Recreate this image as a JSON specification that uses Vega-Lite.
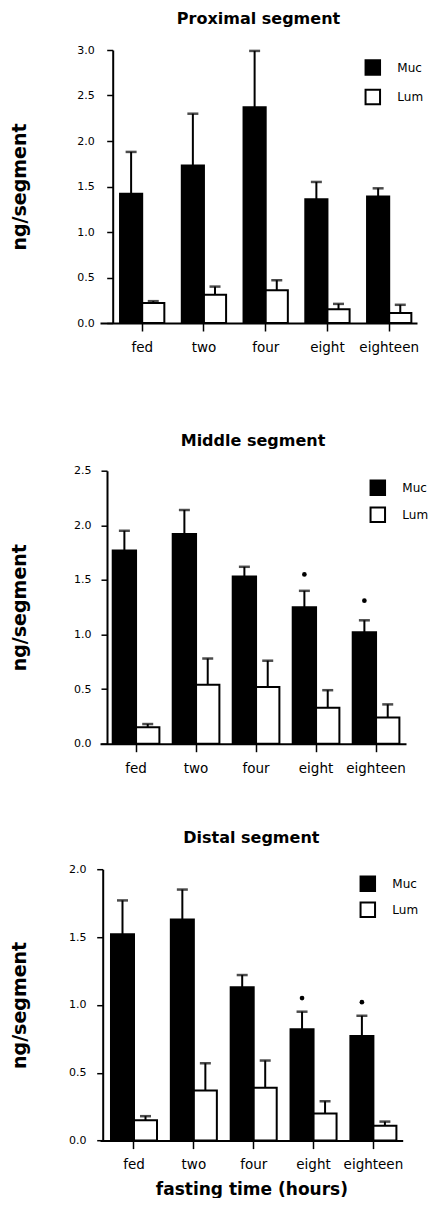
{
  "$schema": "https://vega.github.io/schema/vega-lite/v6.json",
  "padding": {"left": 10, "top": 11, "right": 0, "bottom": 0},
  "background": "white",
  "config": {
    "view": {"stroke": null},
    "axis": {"domainColor": "black", "tickColor": "black", "labelColor": "black", "titleColor": "black", "labelFont": "DejaVu Sans", "titleFont": "DejaVu Sans", "grid": false},
    "legend": {"labelFont": "DejaVu Sans", "labelColor": "black"},
    "title": {"font": "DejaVu Sans", "color": "black"}
  },
  "datasets": {
    "bars": [
      {"segment": "Proximal", "time": "fed", "series": "Muc", "value": 1.42, "err": 1.88, "star": null},
      {"segment": "Proximal", "time": "fed", "series": "Lum", "value": 0.22, "err": 0.24, "star": null},
      {"segment": "Proximal", "time": "two", "series": "Muc", "value": 1.73, "err": 2.30, "star": null},
      {"segment": "Proximal", "time": "two", "series": "Lum", "value": 0.31, "err": 0.40, "star": null},
      {"segment": "Proximal", "time": "four", "series": "Muc", "value": 2.37, "err": 2.99, "star": null},
      {"segment": "Proximal", "time": "four", "series": "Lum", "value": 0.36, "err": 0.47, "star": null},
      {"segment": "Proximal", "time": "eight", "series": "Muc", "value": 1.36, "err": 1.55, "star": null},
      {"segment": "Proximal", "time": "eight", "series": "Lum", "value": 0.15, "err": 0.21, "star": null},
      {"segment": "Proximal", "time": "eighteen", "series": "Muc", "value": 1.39, "err": 1.48, "star": null},
      {"segment": "Proximal", "time": "eighteen", "series": "Lum", "value": 0.11, "err": 0.20, "star": null},
      {"segment": "Middle", "time": "fed", "series": "Muc", "value": 1.77, "err": 1.95, "star": null},
      {"segment": "Middle", "time": "fed", "series": "Lum", "value": 0.15, "err": 0.18, "star": null},
      {"segment": "Middle", "time": "two", "series": "Muc", "value": 1.92, "err": 2.14, "star": null},
      {"segment": "Middle", "time": "two", "series": "Lum", "value": 0.54, "err": 0.78, "star": null},
      {"segment": "Middle", "time": "four", "series": "Muc", "value": 1.53, "err": 1.62, "star": null},
      {"segment": "Middle", "time": "four", "series": "Lum", "value": 0.52, "err": 0.76, "star": null},
      {"segment": "Middle", "time": "eight", "series": "Muc", "value": 1.25, "err": 1.40, "star": 1.55},
      {"segment": "Middle", "time": "eight", "series": "Lum", "value": 0.33, "err": 0.49, "star": null},
      {"segment": "Middle", "time": "eighteen", "series": "Muc", "value": 1.02, "err": 1.13, "star": 1.31},
      {"segment": "Middle", "time": "eighteen", "series": "Lum", "value": 0.24, "err": 0.36, "star": null},
      {"segment": "Distal", "time": "fed", "series": "Muc", "value": 1.52, "err": 1.77, "star": null},
      {"segment": "Distal", "time": "fed", "series": "Lum", "value": 0.15, "err": 0.18, "star": null},
      {"segment": "Distal", "time": "two", "series": "Muc", "value": 1.63, "err": 1.85, "star": null},
      {"segment": "Distal", "time": "two", "series": "Lum", "value": 0.37, "err": 0.57, "star": null},
      {"segment": "Distal", "time": "four", "series": "Muc", "value": 1.13, "err": 1.22, "star": null},
      {"segment": "Distal", "time": "four", "series": "Lum", "value": 0.39, "err": 0.59, "star": null},
      {"segment": "Distal", "time": "eight", "series": "Muc", "value": 0.82, "err": 0.95, "star": 1.05},
      {"segment": "Distal", "time": "eight", "series": "Lum", "value": 0.20, "err": 0.29, "star": null},
      {"segment": "Distal", "time": "eighteen", "series": "Muc", "value": 0.77, "err": 0.92, "star": 1.02},
      {"segment": "Distal", "time": "eighteen", "series": "Lum", "value": 0.11, "err": 0.14, "star": null}
    ]
  },
  "data": {"name": "bars"},
  "columns": 1,
  "spacing": 78.7,
  "resolve": {"scale": {"x": "independent", "y": "independent", "xOffset": "independent", "fill": "independent"}, "legend": {"fill": "independent"}, "axis": {"x": "independent", "y": "independent"}},
  "concat": [
    {
      "width": 317, "height": 273,
      "title": {"text": "Proximal segment", "frame": "group", "offset": 4, "baseline": "alphabetic", "fontSize": 16, "fontWeight": "bold"},
      "transform": [{"filter": "datum.segment === 'Proximal'"}],
      "encoding": {
        "x": {"field": "time", "type": "nominal", "sort": ["fed", "two", "four", "eight", "eighteen"], "scale": {"paddingInner": 0.2826, "paddingOuter": 0.208, "align": 0.78}, "axis": {"title": null, "labelAngle": 0, "labelFontSize": 13.5, "labelPadding": 9.5, "tickSize": 8, "tickWidth": 1.5, "domainWidth": 2}},
        "xOffset": {"field": "series", "type": "nominal", "sort": ["Muc", "Lum"], "scale": {"paddingInner": 0, "paddingOuter": 0}}
      },
      "layer": [
        {"mark": {"type": "bar", "stroke": "black", "strokeWidth": 2},
         "encoding": {
           "y": {"field": "value", "type": "quantitative", "title": "ng/segment", "scale": {"domain": [0, 3], "nice": false},
                 "axis": {"offset": -12.7, "values": [0, 0.25, 0.5, 0.75, 1, 1.25, 1.5, 1.75, 2, 2.25, 2.5, 2.75, 3], "labelExpr": "(datum.value*2) % 1 === 0 ? format(datum.value, '.1f') : ''", "tickSize": {"condition": {"test": "(datum.value*2) % 1 === 0", "value": 6}, "value": 3}, "labelPadding": 12.4, "titlePadding": 47.5, "titleFontSize": 19, "titleFontWeight": "bold", "labelFontSize": 11, "domainWidth": 2, "tickWidth": 1.5, "labelOverlap": false}},
           "fill": {"field": "series", "type": "nominal", "sort": ["Muc", "Lum"], "scale": {"domain": ["Muc", "Lum"], "range": ["black", "white"]},
                    "legend": {"title": null, "orient": "none", "legendX": 264.3, "legendY": 9, "symbolType": "square", "symbolSize": 210, "symbolStrokeColor": "black", "symbolStrokeWidth": 2, "labelFontSize": 12, "labelOffset": 16, "rowPadding": 6.6, "padding": 0}}
         }},
        {"mark": {"type": "rule", "strokeWidth": 2, "color": "black"},
         "encoding": {"y": {"field": "value", "type": "quantitative", "title": "ng/segment"}, "y2": {"field": "err"}}},
        {"mark": {"type": "tick", "thickness": 2.5, "size": 11, "color": "black"},
         "encoding": {"y": {"field": "err", "type": "quantitative", "title": "ng/segment"}}}
      ]
    },
    {
      "columns": 1,
      "spacing": 55.5,
      "resolve": {"scale": {"x": "independent", "y": "independent", "xOffset": "independent", "fill": "independent"}, "legend": {"fill": "independent"}, "axis": {"x": "independent", "y": "independent"}},
      "concat": [
        {
          "width": 306, "height": 273,
          "title": {"text": "Middle segment", "frame": "group", "offset": 2.5, "baseline": "alphabetic", "fontSize": 16, "fontWeight": "bold"},
          "transform": [{"filter": "datum.segment === 'Middle'"}],
          "encoding": {
            "x": {"field": "time", "type": "nominal", "sort": ["fed", "two", "four", "eight", "eighteen"], "scale": {"paddingInner": 0.222, "paddingOuter": 0.161, "align": 0.658}, "axis": {"title": null, "labelAngle": 0, "labelFontSize": 13.5, "labelPadding": 9.5, "tickSize": 8, "tickWidth": 1.5, "domainWidth": 2}},
            "xOffset": {"field": "series", "type": "nominal", "sort": ["Muc", "Lum"], "scale": {"paddingInner": 0, "paddingOuter": 0}}
          },
          "layer": [
            {"mark": {"type": "bar", "stroke": "black", "strokeWidth": 2},
             "encoding": {
               "y": {"field": "value", "type": "quantitative", "title": "ng/segment", "scale": {"domain": [0, 2.5], "nice": false},
                     "axis": {"offset": -7, "values": [0, 0.25, 0.5, 0.75, 1, 1.25, 1.5, 1.75, 2, 2.25, 2.5], "labelExpr": "(datum.value*2) % 1 === 0 ? format(datum.value, '.1f') : ''", "tickSize": {"condition": {"test": "(datum.value*2) % 1 === 0", "value": 6}, "value": 3}, "labelPadding": 10, "titlePadding": 43.7, "titleFontSize": 19, "titleFontWeight": "bold", "labelFontSize": 11, "domainWidth": 2, "tickWidth": 1.5, "labelOverlap": false}},
               "fill": {"field": "series", "type": "nominal", "sort": ["Muc", "Lum"], "scale": {"domain": ["Muc", "Lum"], "range": ["black", "white"]},
                        "legend": {"title": null, "orient": "none", "legendX": 269.3, "legendY": 8.5, "symbolType": "square", "symbolSize": 210, "symbolStrokeColor": "black", "symbolStrokeWidth": 2, "labelFontSize": 12, "labelOffset": 16, "rowPadding": 4, "padding": 0}}
             }},
            {"mark": {"type": "rule", "strokeWidth": 2, "color": "black"},
             "encoding": {"y": {"field": "value", "type": "quantitative", "title": "ng/segment"}, "y2": {"field": "err"}}},
            {"mark": {"type": "tick", "thickness": 2.5, "size": 11, "color": "black"},
             "encoding": {"y": {"field": "err", "type": "quantitative", "title": "ng/segment"}}},
            {"mark": {"type": "point", "filled": true, "size": 22, "color": "black", "opacity": 1},
             "encoding": {"y": {"field": "star", "type": "quantitative", "title": "ng/segment"}}}
          ]
        },
        {
          "width": 302.7, "height": 271.4,
          "title": {"text": "Distal segment", "frame": "group", "offset": 4, "baseline": "alphabetic", "fontSize": 16, "fontWeight": "bold"},
          "transform": [{"filter": "datum.segment === 'Distal'"}],
          "encoding": {
            "x": {"field": "time", "type": "nominal", "sort": ["fed", "two", "four", "eight", "eighteen"], "scale": {"paddingInner": 0.231, "paddingOuter": 0.1443, "align": 0.636}, "axis": {"title": "fasting time (hours)", "titleFontSize": 17, "titleFontWeight": "bold", "titlePadding": 10, "labelAngle": 0, "labelFontSize": 13.5, "labelPadding": 9, "tickSize": 8, "tickWidth": 1.5, "domainWidth": 2}},
            "xOffset": {"field": "series", "type": "nominal", "sort": ["Muc", "Lum"], "scale": {"paddingInner": 0, "paddingOuter": 0}}
          },
          "layer": [
            {"mark": {"type": "bar", "stroke": "black", "strokeWidth": 2},
             "encoding": {
               "y": {"field": "value", "type": "quantitative", "title": "ng/segment", "scale": {"domain": [0, 2], "nice": false},
                     "axis": {"offset": -2.7, "values": [0, 0.25, 0.5, 0.75, 1, 1.25, 1.5, 1.75, 2], "labelExpr": "(datum.value*2) % 1 === 0 ? format(datum.value, '.1f') : ''", "tickSize": {"condition": {"test": "(datum.value*2) % 1 === 0", "value": 6}, "value": 3}, "labelPadding": 10.7, "titlePadding": 39.2, "titleFontSize": 19, "titleFontWeight": "bold", "labelFontSize": 11, "domainWidth": 2, "tickWidth": 1.5, "labelOverlap": false}},
               "fill": {"field": "series", "type": "nominal", "sort": ["Muc", "Lum"], "scale": {"domain": ["Muc", "Lum"], "range": ["black", "white"]},
                        "legend": {"title": null, "orient": "none", "legendX": 259.3, "legendY": 6, "symbolType": "square", "symbolSize": 210, "symbolStrokeColor": "black", "symbolStrokeWidth": 2, "labelFontSize": 12, "labelOffset": 16, "rowPadding": 3, "padding": 0}}
             }},
            {"mark": {"type": "rule", "strokeWidth": 2, "color": "black"},
             "encoding": {"y": {"field": "value", "type": "quantitative", "title": "ng/segment"}, "y2": {"field": "err"}}},
            {"mark": {"type": "tick", "thickness": 2.5, "size": 11, "color": "black"},
             "encoding": {"y": {"field": "err", "type": "quantitative", "title": "ng/segment"}}},
            {"mark": {"type": "point", "filled": true, "size": 22, "color": "black", "opacity": 1},
             "encoding": {"y": {"field": "star", "type": "quantitative", "title": "ng/segment"}}}
          ]
        }
      ]
    }
  ]
}
